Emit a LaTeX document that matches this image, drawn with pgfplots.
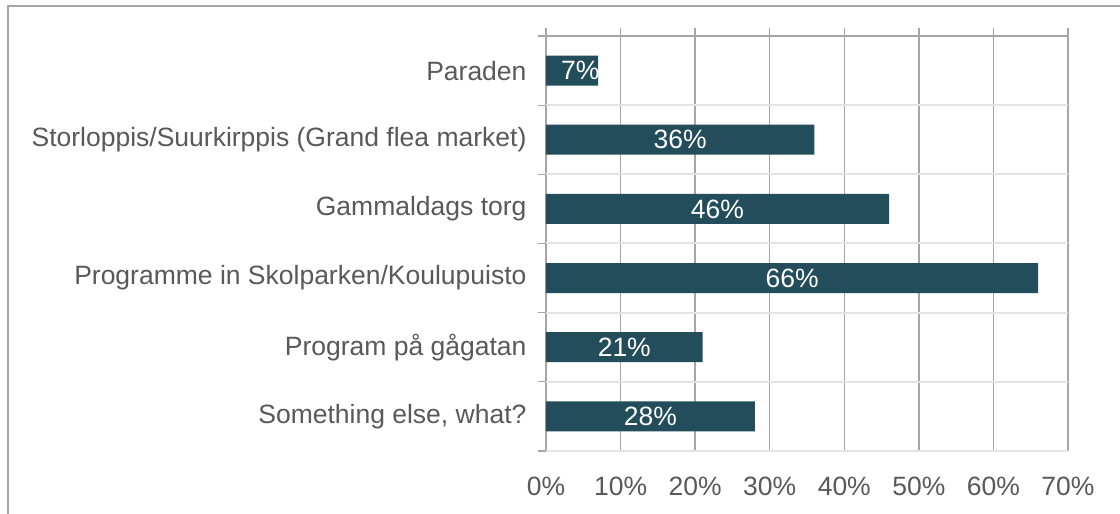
\documentclass[border=0pt]{standalone}
\usepackage{pgfplots}
\pgfplotsset{compat=1.18}
\usepackage{fontspec}
\setmainfont{Liberation Sans}
\definecolor{barc}{HTML}{234D5A}
\definecolor{txt}{HTML}{595959}
\definecolor{gridc}{HTML}{A6A6A6}
\definecolor{hgrid}{HTML}{E3E3E3}
\begin{document}
\begin{tikzpicture}
\useasboundingbox (0,0) rectangle (1120pt,514pt);
\fill[white] (0,0) rectangle (1120pt,514pt);
\draw[gridc, line width=2pt] (8pt,0) -- (8pt,508pt) -- (1121pt,508pt);
\begin{axis}[
  at={(546pt,63pt)}, anchor=south west,
  scale only axis, width=522pt, height=415pt,
  xmin=0, xmax=70, ymin=-0.5, ymax=5.5,
  axis line style={draw=none},
  xtick={0,10,...,70},
  xticklabels={0\%,10\%,20\%,30\%,40\%,50\%,60\%,70\%},
  xtick pos=right, xticklabel pos=left,
  tick align=outside,
  major tick length=8pt, minor tick length=8pt,
  xmajorgrids, major grid style={gridc, line width=1.3pt},
  ytick={0,1,2,3,4,5},
  yticklabels={{Something else, what?},{Program på gågatan},{Programme in Skolparken/Koulupuisto},{Gammaldags torg},{Storloppis/Suurkirppis (Grand flea market)},{Paraden}},
  minor ytick={-0.5,0.5,1.5,2.5,3.5,4.5,5.5},
  yminorgrids, minor grid style={hgrid, line width=2pt},
  ytick pos=left,
  every major y tick/.style={draw=none},
  every minor y tick/.style={gridc, line width=1.3pt},
  every major x tick/.style={gridc, line width=1.3pt},
  tick label style={font=\fontsize{26.5}{30}\selectfont, text=txt},
  yticklabel style={xshift=-8pt},
  xticklabel style={yshift=-14pt},
  clip=false,
]
\addplot[xbar, bar width=30pt, bar shift=0pt, draw=none, fill=barc]
  coordinates {(28,0) (21,1) (66,2) (46,3) (36,4) (7,5)};
\addplot[draw=none, mark=none, nodes near coords, point meta=explicit symbolic,
  every node near coord/.style={anchor=center, text=white, font=\fontsize{26.5}{30}\selectfont}]
  coordinates {(14,0)[28\%] (10.5,1)[21\%] (33,2)[66\%] (23,3)[46\%] (18,4)[36\%] (4.6,5)[7\%]};
\draw[gridc, line width=1.3pt] (rel axis cs:0,1) -- (rel axis cs:1,1);
\end{axis}
\end{tikzpicture}
\end{document}
